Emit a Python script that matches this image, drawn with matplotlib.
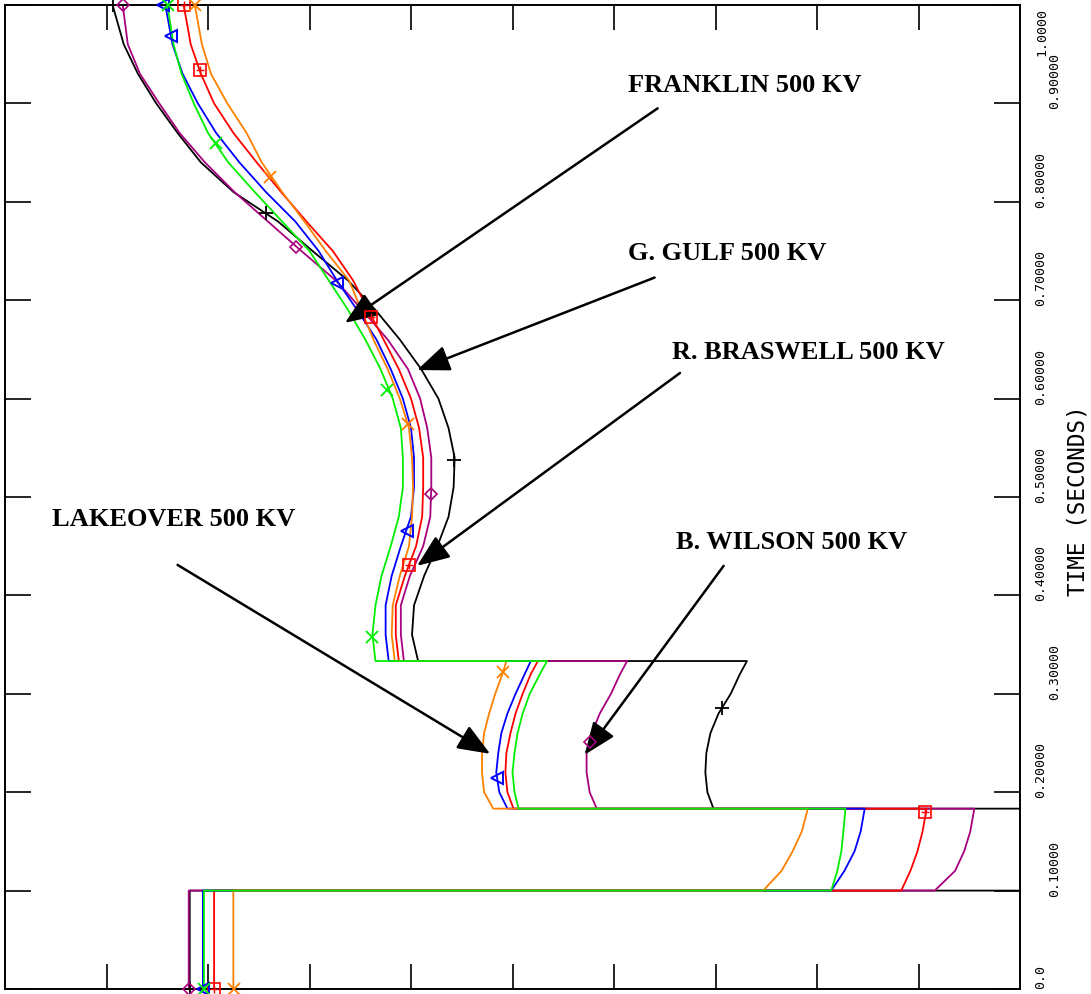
import matplotlib
matplotlib.use("Agg")
import matplotlib.pyplot as plt
from matplotlib.transforms import blended_transform_factory

# ---------------- data ----------------
# time (seconds) shared by all bus traces; repeated times are switching instants
T = [0.0, 0.1,
     0.1, 0.12, 0.14, 0.16, 0.1833,
     0.1833, 0.20, 0.22, 0.24, 0.26, 0.28, 0.30, 0.32, 0.3333,
     0.3333, 0.36, 0.39, 0.42, 0.45, 0.48, 0.51, 0.54, 0.57, 0.60, 0.63, 0.66,
     0.69, 0.72, 0.75, 0.78, 0.81, 0.84, 0.87, 0.90, 0.93, 0.96, 1.0]

black = [18.2, 18.2,
         104.0, 105.0, 106.0, 107.0, 108.0,
         69.8, 69.2, 69.0, 69.1, 69.5, 70.3, 71.5, 72.4, 73.1,
         40.7, 40.1, 40.3, 41.3, 42.6, 43.7, 44.2, 44.3, 43.7, 42.7, 41.0, 38.9,
         36.5, 33.8, 30.3, 26.9, 22.5, 19.3, 17.0, 14.9, 13.1, 11.7, 10.6]
purple = [18.1, 18.1,
          91.6, 93.6, 94.5, 95.1, 95.5,
          58.3, 57.6, 57.3, 57.3, 57.8, 58.6, 59.7, 60.6, 61.3,
          39.3, 39.0, 39.0, 39.9, 41.2, 41.9, 42.0, 42.0, 41.6, 40.9, 39.7, 37.7,
          35.2, 32.6, 29.2, 25.9, 22.6, 19.7, 17.2, 15.2, 13.3, 12.1, 11.6]
red = [20.6, 20.6,
       88.3, 89.2, 89.9, 90.4, 90.8,
       50.1, 49.5, 49.3, 49.4, 49.8, 50.3, 51.0, 51.8, 52.5,
       38.8, 38.5, 38.5, 39.4, 40.5, 41.1, 41.2, 41.2, 40.8, 40.0, 38.8, 37.3,
       35.8, 34.3, 32.3, 29.7, 27.2, 24.8, 22.5, 20.6, 19.3, 18.3, 17.6]
blue = [19.5, 19.5,
        81.4, 82.7, 83.7, 84.3, 84.7,
        49.5, 48.7, 48.4, 48.6, 48.9, 49.5, 50.3, 51.2, 51.8,
        37.8, 37.5, 37.5, 38.1, 39.0, 40.0, 40.3, 40.3, 40.0, 39.2, 38.0, 36.6,
        34.7, 32.7, 30.9, 28.6, 25.7, 23.1, 20.8, 19.0, 17.5, 16.5, 15.8]
green = [19.6, 19.6,
         81.4, 82.0, 82.4, 82.6, 82.8,
         50.6, 50.2, 50.0, 50.2, 50.5, 51.0, 51.7, 52.7, 53.4,
         36.5, 36.2, 36.5, 37.1, 38.0, 38.8, 39.2, 39.2, 39.0, 38.2, 37.0, 35.5,
         33.8, 31.9, 30.0, 27.3, 24.6, 22.0, 20.0, 18.6, 17.4, 16.6, 16.0]
orange = [22.5, 22.5,
          74.7, 76.5, 77.6, 78.5, 79.1,
          48.1, 47.2, 47.0, 47.0, 47.2, 47.7, 48.3, 49.0, 49.4,
          38.4, 38.1, 38.2, 38.9, 39.8, 40.1, 40.2, 40.1, 39.8, 38.9, 37.7, 36.3,
          35.1, 33.9, 31.6, 29.5, 27.3, 25.3, 23.8, 21.9, 20.3, 19.4, 18.7]

# symbol positions on each trace (time, value)
black_mt = [0.0, 0.286, 0.538, 0.789, 1.0]
black_mx = [18.2, 70.6, 44.2, 25.7, 10.6]
purple_mt = [0.0, 0.251, 0.503, 0.754, 1.0]
purple_mx = [18.1, 57.6, 42.0, 28.7, 11.6]
red_mt = [0.0, 0.180, 0.431, 0.683, 0.934, 1.0]
red_mx = [20.6, 90.6, 39.8, 36.1, 19.2, 17.6]
blue_mt = [0.0, 0.214, 0.465, 0.717, 0.968, 1.0]
blue_mx = [19.5, 48.5, 39.6, 32.7, 16.4, 15.6]
green_mt = [0.0, 0.358, 0.609, 0.860, 1.0]
green_mx = [19.6, 36.2, 37.6, 20.8, 16.1]
orange_mt = [0.0, 0.322, 0.574, 0.825, 1.0]
orange_mx = [22.6, 49.1, 39.7, 26.1, 18.7]

y_ticks = [0.0, 0.1, 0.2, 0.3, 0.4, 0.5, 0.6, 0.7, 0.8, 0.9, 1.0]
y_tick_labels = ["0.0", "0.10000", "0.20000", "0.30000", "0.40000", "0.50000",
                 "0.60000", "0.70000", "0.80000", "0.90000", "1.0000"]
x_ticks = [10, 20, 30, 40, 50, 60, 70, 80, 90]
y_title = "TIME (SECONDS)"

# annotations: label, text position (value, time), arrow start, arrow tip
ann_labels = ["FRANKLIN 500 KV", "G. GULF 500 KV", "R. BRASWELL 500 KV",
              "LAKEOVER 500 KV", "B. WILSON 500 KV"]
ann_text_pos = [(61.4, 0.918), (61.4, 0.747), (65.7, 0.647), (4.6, 0.477), (66.1, 0.454)]
ann_start = [(64.3, 0.895), (64.0, 0.723), (66.5, 0.626), (17.0, 0.431), (70.8, 0.430)]
ann_tip = [(33.5, 0.677), (40.6, 0.629), (40.6, 0.430), (47.8, 0.239), (57.1, 0.238)]

# ---------------- figure ----------------
W, H = 1091, 994
fig = plt.figure(figsize=(W / 100, H / 100), dpi=100)
ax = fig.add_axes([5 / W, 5 / H, 1015 / W, 984 / H])
ax.set_xlim(0, 100)
ax.set_ylim(0, 1.0)

series = [
    (black, black_mt, black_mx, "black", "+", 10, 1.3),
    (purple, purple_mt, purple_mx, "#a8007f", "D", 6, 1.2),
    (red, red_mt, red_mx, "#ff0000", "s", 9, 1.2),
    (blue, blue_mt, blue_mx, "#0000ff", "<", 8, 1.4),
    (orange, orange_mt, orange_mx, "#ff8000", "x", 9, 1.3),
    (green, green_mt, green_mx, "#00ee00", "x", 8, 1.3),
]
for xs, mt, mx, col, mk, ms, mew in series:
    ax.plot(xs, T, color=col, lw=1.3, solid_joinstyle="round")
    ax.plot(mx, mt, linestyle="none", marker=mk, ms=ms, mfc="none", mec=col,
            mew=mew, clip_on=False, zorder=4)
    if mk == "s":
        ax.plot(mx, mt, linestyle="none", marker="+", ms=6, mec=col, mew=1.0,
                clip_on=False, zorder=4)

for s in ax.spines.values():
    s.set_linewidth(1.4)

ax.set_xticks(x_ticks)
ax.set_xticklabels([])
ax.tick_params(axis="x", direction="in", length=18, width=1.2, top=True, bottom=True)
ax.set_yticks(y_ticks)
ax.set_yticklabels([])
ax.tick_params(axis="y", which="major", direction="in", length=19, width=1.2,
               left=True, right=True)

tr = blended_transform_factory(ax.transAxes, ax.transData)
for v, lab in zip(y_ticks, y_tick_labels):
    if v >= 1.0:
        ax.text(1.0217, v - 0.003, lab, transform=tr, rotation=90, ha="center", va="top",
                family="DejaVu Sans Mono", fontsize=9.5)
    else:
        xo = 1.0345 if lab in ("0.10000", "0.30000", "0.90000") else 1.0207
        dv = 0.0 if v == 0.0 else -0.006
        ax.text(xo, v + dv, lab, transform=tr, rotation=90, ha="center", va="bottom",
                family="DejaVu Sans Mono", fontsize=9.5, clip_on=False)

fig.text(1078 / W, 0.496, y_title, rotation=90, ha="center", va="center",
         family="DejaVu Sans Mono", fontsize=16.3)

for lab, tp, st, tip in zip(ann_labels, ann_text_pos, ann_start, ann_tip):
    ax.text(tp[0], tp[1], lab, ha="left", va="center", family="Liberation Serif",
            fontweight="bold", fontsize=19)
    ax.annotate("", xy=tip, xytext=st,
                arrowprops=dict(arrowstyle="-|>,head_length=1.0,head_width=0.4",
                                mutation_scale=20, lw=1.8, color="black",
                                shrinkA=0, shrinkB=0))

fig.savefig("out.png", dpi=100)
